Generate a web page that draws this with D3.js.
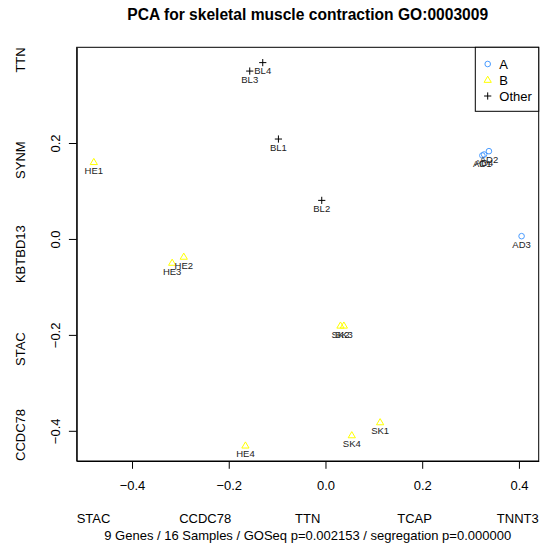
<!DOCTYPE html>
<html>
<head>
<meta charset="utf-8">
<script src="https://cdn.jsdelivr.net/npm/d3@7"></script>
<style>
  body { margin: 0; background: #fff; }
  svg { display: block; font-family: "Liberation Sans", Arial, sans-serif; }
</style>
</head>
<body>
<svg id="chart" width="544" height="546"></svg>
<script>
// ---- data ----
const sampleNames = ["AD1","AD2","AD3","AD4","HE1","HE2","HE3","HE4","SK1","SK2","SK3","SK4","BL1","BL2","BL3","BL4"];
const sampleGroups = ["A","A","A","A","B","B","B","B","B","B","B","B","Other","Other","Other","Other"];
const pc1 = [0.3244, 0.338, 0.4055, 0.328, -0.479, -0.293, -0.317, -0.1655, 0.113, 0.031, 0.038, 0.0544, -0.0973, -0.0077, -0.1566, -0.1297];
const pc2 = [0.174, 0.183, 0.0058, 0.176, 0.160, -0.0374, -0.050, -0.431, -0.3825, -0.181, -0.181, -0.4096, 0.2083, 0.0804, 0.350, 0.3676];
const xTicks = [-0.4, -0.2, 0.0, 0.2, 0.4];
const yTicks = [-0.4, -0.2, 0.0, 0.2];
const xGenes = ["STAC","CCDC78","TTN","TCAP","TNNT3"];
const yGenes = ["CCDC78","STAC","KBTBD13","SYNM","TTN"]; // bottom to top
const legendGroups = ["A","B","Other"];
const titleText = "PCA for skeletal muscle contraction GO:0003009";
const subText = "9 Genes / 16 Samples / GOSeq p=0.002153 / segregation p=0.000000";

// ---- layout ----
const L = 76.7, R = 538.7, T = 47.3, B = 461;
const colors = { A: "#4a9cff", B: "#ffff00", Other: "#000000" };

function padded(ext) { const d = (ext[1] - ext[0]) * 0.04; return [ext[0] - d, ext[1] + d]; }
const x = d3.scaleLinear().domain(padded(d3.extent(pc1))).range([L, R]);
const y = d3.scaleLinear().domain(padded(d3.extent(pc2))).range([B, T]);

const svg = d3.select("#chart");
const fmt = v => (v < 0 ? "\u2212" : "") + Math.abs(v).toFixed(1);

// title
svg.append("text").attr("x", (L + R) / 2).attr("y", 20).attr("text-anchor", "middle")
  .attr("font-weight", "bold").attr("font-size", 15.6).text(titleText);

// axes
const xAxis = svg.append("g").attr("transform", `translate(0,${B})`)
  .call(d3.axisBottom(x).tickValues(xTicks).tickFormat(fmt).tickSize(7.8).tickSizeOuter(0).tickPadding(12));
xAxis.selectAll("text").attr("font-size", 13).attr("font-family", "Liberation Sans, Arial, sans-serif").attr("fill", "#000");
xAxis.selectAll("line,path").attr("stroke", "#000");

const yAxis = svg.append("g").attr("transform", `translate(${L},0)`)
  .call(d3.axisLeft(y).tickValues(yTicks).tickFormat(fmt).tickSize(7.8).tickSizeOuter(0));
yAxis.selectAll("line,path").attr("stroke", "#000");
yAxis.selectAll("text")
  .attr("font-size", 13).attr("font-family", "Liberation Sans, Arial, sans-serif").attr("fill", "#000")
  .attr("x", null).attr("dy", null).attr("text-anchor", "middle")
  .attr("transform", "translate(" + (59.7 - L) + ",0) rotate(-90)");

// box
svg.append("rect").attr("x", L).attr("y", T).attr("width", R - L).attr("height", B - T)
  .attr("fill", "none").attr("stroke", "#000").attr("stroke-width", 1);

// gene labels along x (evenly spaced, adj 0..1)
const nx = xGenes.length;
xGenes.forEach((g, i) => {
  const adj = i / (nx - 1);
  const px = L + (R - L) * adj;
  const t = svg.append("text").attr("y", 523).attr("font-size", 13).text(g);
  const w = t.node().getComputedTextLength();
  t.attr("x", px - adj * w);
});
// gene labels along y (rotated, reading upward)
const ny = yGenes.length;
yGenes.forEach((g, i) => {
  const adj = i / (ny - 1);
  const py = B - (B - T) * adj;
  const t = svg.append("text").attr("font-size", 13).text(g);
  const w = t.node().getComputedTextLength();
  t.attr("transform", `translate(25.4,${py + adj * w}) rotate(-90)`);
});

// subtitle
svg.append("text").attr("x", (L + R) / 2).attr("y", 540).attr("text-anchor", "middle")
  .attr("font-size", 13).text(subText);

// markers
function drawMarker(g, group, cx, cy) {
  if (group === "A") {
    g.append("circle").attr("cx", cx).attr("cy", cy).attr("r", 2.8)
      .attr("fill", "none").attr("stroke", colors.A).attr("stroke-width", 1);
  } else if (group === "B") {
    const s = 3.8;
    g.append("path").attr("d", `M${cx},${cy - s}L${cx + s * 0.95},${cy + s * 0.62}L${cx - s * 0.95},${cy + s * 0.62}Z`)
      .attr("fill", "none").attr("stroke", colors.B).attr("stroke-width", 1);
  } else {
    const s = 3.6;
    g.append("path").attr("d", `M${cx - s},${cy}H${cx + s}M${cx},${cy - s}V${cy + s}`)
      .attr("fill", "none").attr("stroke", colors.Other).attr("stroke-width", 1);
  }
}

const pts = svg.append("g");
sampleNames.forEach((n, i) => {
  drawMarker(pts, sampleGroups[i], x(pc1[i]), y(pc2[i]));
});
const labs = svg.append("g");
sampleNames.forEach((n, i) => {
  labs.append("text").attr("x", x(pc1[i])).attr("y", y(pc2[i]) + 11.8)
    .attr("text-anchor", "middle").attr("font-size", 9.5).attr("fill", "#222").text(n);
});

// legend
const lg = svg.append("g");
lg.append("rect").attr("x", 475.3).attr("y", T).attr("width", R - 475.3).attr("height", 111.3 - T)
  .attr("fill", "#fff").attr("stroke", "#000");
legendGroups.forEach((gname, i) => {
  const ly = 64 + i * 16;
  drawMarker(lg, gname, 487.7, ly);
  lg.append("text").attr("x", 499.3).attr("y", ly + 4.6).attr("font-size", 13).text(gname);
});
</script>
</body>
</html>
